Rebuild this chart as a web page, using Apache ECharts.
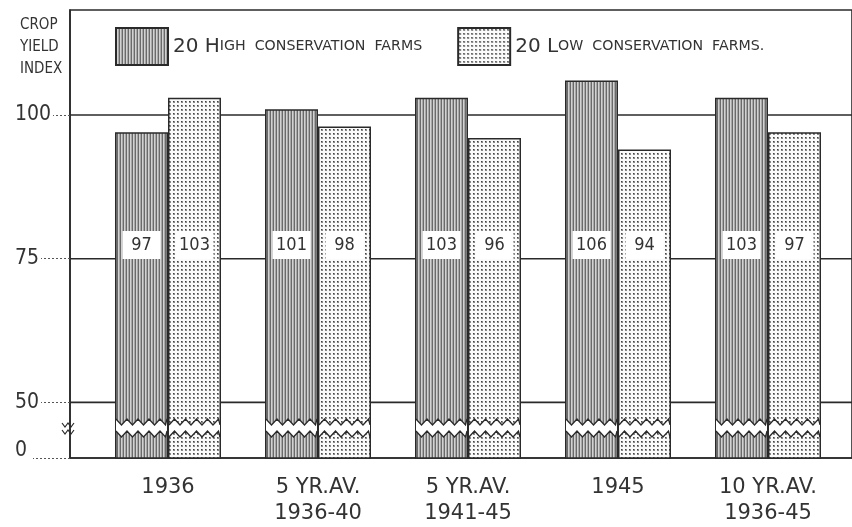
<!DOCTYPE html>
<html>
<head>
<meta charset="utf-8">
<script src="https://cdn.jsdelivr.net/npm/echarts@6/dist/echarts.min.js"></script>
<style>
html,body{margin:0;padding:0;background:#fff;}
#chart{width:852px;height:527px;}
</style>
</head>
<body>
<div id="chart"></div>
<script>
// ---- data ----
const categories = ['1936', '5 YR.AV.\n1936-40', '5 YR.AV.\n1941-45', '1945', '10 YR.AV.\n1936-45'];
const seriesNames = ['20 High conservation farms', '20 Low conservation farms.'];
const highValues = [97, 101, 103, 106, 103];
const lowValues = [103, 98, 96, 94, 97];
const yTickValues = [0, 50, 75, 100];
const gridValues = [50, 75, 100];

// ---- layout constants (broken axis: 0 is drawn just below the break) ----
const Y_ZERO_POS = 40.33;   // axis position where "0" sits (axis is broken between 0 and 50)
const Y_MAX = 118.26;
const X_MIN = -0.6533, X_MAX = 4.56;
const BAR_W = 53;
const BREAK_TOP = 46.6, BREAK_BOT = 44.5;
const LABEL_Y = 77.4;
const INK = '#2a2a2a';

function mapTick(v) { return v === 0 ? Y_ZERO_POS : v; }

// patterns
function makeStripe() {
  const c = document.createElement('canvas'); c.width = 3; c.height = 4;
  const g = c.getContext('2d');
  const cols = ['#6a6a6a', '#d2d2d2', '#a8a8a8'];
  cols.forEach((col, i) => { g.fillStyle = col; g.fillRect(i, 0, 1, 4); });
  return c;
}
function makeDots() {
  const c = document.createElement('canvas'); c.width = 4; c.height = 4;
  const g = c.getContext('2d');
  g.fillStyle = '#fbfbfb'; g.fillRect(0, 0, 4, 4);
  g.fillStyle = '#8a8a8a'; g.fillRect(1, 1, 2, 2);
  g.fillStyle = '#444'; g.fillRect(1, 1, 1, 1);
  return c;
}
const stripe = { image: makeStripe(), repeat: 'repeat' };
const dots = { image: makeDots(), repeat: 'repeat' };

const chart = echarts.init(document.getElementById('chart'), null, { renderer: 'canvas' });

function zig(x0, x1, yc, amp, step, phase) {
  const pts = [];
  let k = phase;
  for (let x = x0; x < x1; x += step) { pts.push([x, yc + (k % 2 ? amp : -amp)]); k++; }
  pts.push([x1, yc + (k % 2 ? amp : -amp)]);
  return pts;
}

function decorItem(params, api) {
  const i = api.value(0);
  const c = api.coord([i, Y_ZERO_POS]);
  const yt = api.coord([i, BREAK_TOP])[1];
  const yb = api.coord([i, BREAK_BOT])[1];
  const yl = api.coord([i, LABEL_Y])[1];
  const vals = [api.value(1), api.value(2)];
  const children = [];
  [[c[0] - BAR_W, c[0]], [c[0], c[0] + BAR_W]].forEach(([x0, x1], j) => {
    const top = zig(x0 + 1, x1 - 1, yt, 3, 5.5, j);
    const bot = zig(x0 + 1, x1 - 1, yb, 3, 5.5, j);
    children.push({ type: 'polygon', shape: { points: top.concat(bot.slice().reverse()) }, style: { fill: '#fff', stroke: null } });
    children.push({ type: 'polyline', shape: { points: top }, style: { stroke: INK, lineWidth: 1.3, fill: null } });
    children.push({ type: 'polyline', shape: { points: bot }, style: { stroke: INK, lineWidth: 1.3, fill: null } });
    const xc = (x0 + x1) / 2;
    children.push({ type: 'rect', shape: { x: xc - 19, y: yl - 14, width: 38, height: 28 }, style: { fill: '#fff', stroke: null } });
    children.push({ type: 'text', style: { x: xc, y: yl, text: String(vals[j]), align: 'center', verticalAlign: 'middle',
      font: '18px "DejaVu Sans Condensed", "DejaVu Sans", sans-serif', fill: '#333' } });
  });
  if (params.dataIndex === 0) {
    const ax = api.coord([X_MIN, Y_ZERO_POS])[0];
    const ym = (yt + yb) / 2;
    children.push({ type: 'polyline', shape: { points: zig(ax - 8, ax + 4, ym - 3, 2, 3, 0) }, style: { stroke: INK, lineWidth: 1.2, fill: null } });
    children.push({ type: 'polyline', shape: { points: zig(ax - 8, ax + 4, ym + 4, 2, 3, 0) }, style: { stroke: INK, lineWidth: 1.2, fill: null } });
  }
  return { type: 'group', children };
}

function gridItem(params, api) {
  const v = api.value(1);
  const p0 = api.coord([X_MIN, v]), p1 = api.coord([X_MAX, v]);
  return { type: 'line', shape: { x1: p0[0], y1: p0[1], x2: p1[0], y2: p1[1] }, style: { stroke: INK, lineWidth: 1.6 } };
}

const legendRich = {
  big: { fontSize: 20, color: '#333', fontFamily: '"DejaVu Sans",sans-serif' },
  sm: { fontSize: 14.2, color: '#333', fontFamily: '"DejaVu Sans",sans-serif' }
};
function smallCaps(name) {
  // "20 H" large, remaining letters as small capitals
  const w = name.split(' ');
  const big = w[0] + ' ' + w[1][0].toUpperCase();
  const rest = (w[1].slice(1) + '  ' + w.slice(2).join('  ')).toUpperCase();
  return '{big|' + big + '}{sm|' + rest + '}';
}

chart.setOption({
  animation: false,
  backgroundColor: '#fff',
  title: {
    text: 'CROP\nYIELD\nINDEX', left: 15, top: 9,
    textStyle: { fontSize: 15, lineHeight: 22, fontWeight: 'normal', color: '#333',
      fontFamily: '"DejaVu Sans Condensed","DejaVu Sans",sans-serif' }
  },
  legend: {
    left: 115, top: 27, padding: 0, itemWidth: 52, itemHeight: 37, itemGap: 35,
    icon: 'rect',
    data: seriesNames,
    formatter: smallCaps,
    textStyle: { rich: legendRich }
  },
  grid: { left: 70, right: 0, top: 10, bottom: 69, show: true, borderColor: INK, borderWidth: 1.6, backgroundColor: '#fff' },
  xAxis: {
    type: 'value', min: X_MIN, max: X_MAX,
    axisLine: { show: true, onZero: false, lineStyle: { color: INK, width: 1.6 } },
    axisTick: { show: false },
    splitLine: { show: false },
    axisLabel: {
      customValues: categories.map((_, i) => i),
      formatter: v => categories[Math.round(v)] || '',
      fontSize: 21, lineHeight: 26, margin: 17, color: '#333',
      fontFamily: '"DejaVu Sans","Liberation Sans",sans-serif'
    }
  },
  yAxis: {
    type: 'value', min: Y_ZERO_POS, max: Y_MAX,
    axisLine: { show: true, onZero: false, lineStyle: { color: INK, width: 1.6 } },
    splitLine: { show: false },
    axisTick: { show: true, customValues: yTickValues.map(mapTick), length: 37, lineStyle: { color: '#555', type: [2, 2], width: 1 } },
    axisLabel: {
      customValues: yTickValues.map(mapTick),
      formatter: v => (v < 45 ? '{z|0}' : String(Math.round(v))),
      align: 'left', margin: 55,
      fontSize: 21, color: '#333', backgroundColor: '#fff', padding: [0, 2, 0, 0],
      fontFamily: '"DejaVu Sans Condensed","DejaVu Sans",sans-serif',
      rich: { z: { fontSize: 21, color: '#333', padding: [0, 0, 15, 0], backgroundColor: '#fff',
        fontFamily: '"DejaVu Sans Condensed","DejaVu Sans",sans-serif' } }
    }
  },
  series: [
    { type: 'custom', name: 'gridlines', z: 1, silent: true, renderItem: gridItem,
      data: gridValues.map(v => [0, v]) },
    { type: 'bar', name: seriesNames[0], z: 2, barWidth: BAR_W, barGap: '0%',
      itemStyle: { color: stripe, borderColor: INK, borderWidth: 1.5 },
      data: highValues.map((v, i) => [i, v]) },
    { type: 'bar', name: seriesNames[1], z: 2, barWidth: BAR_W, barGap: '0%',
      itemStyle: { color: dots, borderColor: INK, borderWidth: 1.5 },
      data: lowValues.map((v, i) => [i, v]) },
    { type: 'custom', name: 'decor', z: 3, silent: true, renderItem: decorItem,
      data: categories.map((_, i) => [i, highValues[i], lowValues[i]]) }
  ]
});
</script>
</body>
</html>
